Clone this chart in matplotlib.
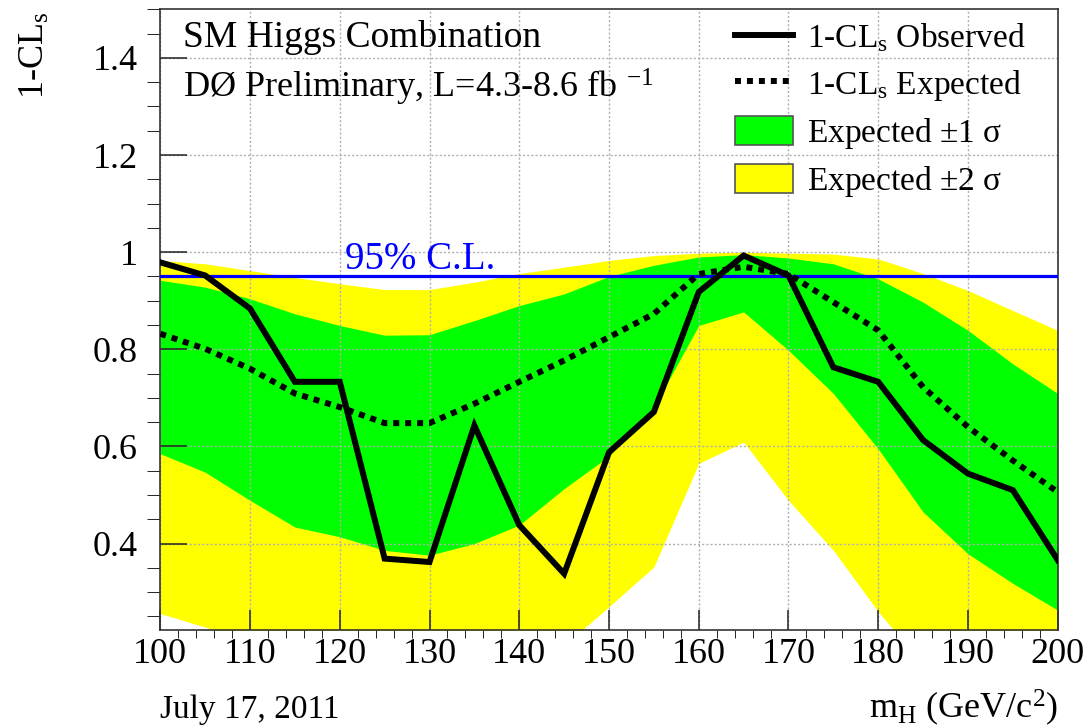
import matplotlib
matplotlib.use('Agg')
import matplotlib.pyplot as plt
from matplotlib.lines import Line2D
from matplotlib.patches import Patch
from matplotlib.ticker import MultipleLocator, FuncFormatter

plt.rcParams['font.family'] = ['Liberation Serif', 'DejaVu Serif']
plt.rcParams['mathtext.fontset'] = 'custom'
plt.rcParams['mathtext.rm'] = 'Liberation Serif'
plt.rcParams['mathtext.it'] = 'Liberation Serif:italic'

# Higgs mass points (GeV/c^2)
mass = [100, 105, 110, 115, 120, 125, 130, 135, 140, 145, 150,
        155, 160, 165, 170, 175, 180, 185, 190, 195, 200]

# 1-CLs observed and expected
observed = [0.979, 0.952, 0.884, 0.733, 0.733, 0.369, 0.362, 0.643, 0.438, 0.338, 0.588,
            0.671, 0.918, 0.993, 0.952, 0.763, 0.733, 0.613, 0.544, 0.510, 0.366]
expected = [0.832, 0.801, 0.760, 0.709, 0.681, 0.648, 0.648, 0.688, 0.733, 0.777, 0.825,
            0.873, 0.955, 0.970, 0.955, 0.897, 0.839, 0.722, 0.640, 0.571, 0.506]

# expected +-1 sigma band
sig1_hi = [0.942, 0.928, 0.904, 0.873, 0.849, 0.829, 0.830, 0.859, 0.890, 0.914, 0.950,
           0.973, 0.990, 0.995, 0.988, 0.976, 0.945, 0.897, 0.839, 0.770, 0.709]
sig1_lo = [0.585, 0.547, 0.489, 0.434, 0.414, 0.386, 0.376, 0.400, 0.438, 0.513, 0.580,
           0.681, 0.849, 0.877, 0.798, 0.709, 0.595, 0.465, 0.379, 0.318, 0.263]

# expected +-2 sigma band
sig2_hi = [0.983, 0.976, 0.962, 0.948, 0.935, 0.923, 0.923, 0.938, 0.956, 0.969, 0.983,
           0.993, 0.998, 1.000, 0.998, 0.996, 0.986, 0.956, 0.921, 0.880, 0.839]
sig2_lo = [0.256, 0.228, 0.200, 0.180, 0.170, 0.160, 0.160, 0.170, 0.180, 0.190, 0.270,
           0.352, 0.565, 0.609, 0.489, 0.386, 0.260, 0.150, 0.100, 0.080, 0.050]

cl95 = 0.95

fig = plt.figure(figsize=(10.91, 7.28), dpi=100)
ax = fig.add_axes([0.1469, 0.1346, 0.8226, 0.8526])

ax.fill_between(mass, sig2_lo, sig2_hi, color='#ffff00', lw=0, zorder=1)
ax.fill_between(mass, sig1_lo, sig1_hi, color='#00ff00', lw=0, zorder=1.1)
ax.axhline(cl95, color='#0000ff', lw=2.3, zorder=3)
ax.plot(mass, expected, color='black', lw=4.3, ls=(0, (1, 1)), zorder=3.1)
ax.plot(mass, observed, color='black', lw=4.3, zorder=3.2, solid_joinstyle='miter')

ax.set_xlim(100, 200)
ax.set_ylim(0.222, 1.5)

ax.xaxis.set_major_locator(MultipleLocator(10))
ax.xaxis.set_minor_locator(MultipleLocator(2))
ax.yaxis.set_major_locator(MultipleLocator(0.2))
ax.yaxis.set_minor_locator(MultipleLocator(0.05))
ax.yaxis.set_major_formatter(FuncFormatter(lambda v, p: '%g' % round(v, 2)))

ax.tick_params(axis='both', direction='in', labelsize=26, color='#222222', width=1.1)
ax.tick_params(axis='y', which='major', length=19.5, pad=16)
ax.tick_params(axis='y', which='minor', length=9.5)
ax.tick_params(axis='x', which='major', length=14.5, pad=6)
ax.tick_params(axis='x', which='minor', length=6)
ax.grid(True, which='major', color='#b0b0b0', ls=(0, (1.5, 1.5)), lw=1.0)

for s in ax.spines.values():
    s.set_linewidth(1.2)
    s.set_color('#333333')

ax.text(120.6, 0.966, '95% C.L.', color='#0000ff', fontsize=28, zorder=4)

ax.text(0.0256, 0.940, 'SM Higgs Combination', transform=ax.transAxes, fontsize=27)
ax.text(0.0256, 0.857, 'DØ Preliminary, L=4.3-8.6 fb $^{-1}$', transform=ax.transAxes,
        fontsize=26)

handles = [
    Line2D([], [], color='black', lw=4.3),
    Line2D([], [], color='black', lw=4.3, ls=(0, (1, 1))),
    Patch(facecolor='#00ff00', edgecolor='#555555', lw=1.2),
    Patch(facecolor='#ffff00', edgecolor='#555555', lw=1.2),
]
labels = ['1-CL$_{\\mathrm{s}}$ Observed', '1-CL$_{\\mathrm{s}}$ Expected',
          'Expected $\\pm$1 σ', 'Expected $\\pm$2 σ']
ax.legend(handles, labels, loc='upper left', bbox_to_anchor=(0.640, 0.980),
          frameon=False, fontsize=24, handlelength=1.74, handleheight=0.96,
          handletextpad=0.42, labelspacing=0.39, borderpad=0, borderaxespad=0)

fig.text(0.032, 0.984, '1-CL$_{\\mathrm{s}}$', rotation=90, ha='center', va='top', fontsize=26)
fig.text(0.9695, 0.0137, 'm$_{\\mathrm{H}}$ (GeV/c$^{2}$)', ha='right', va='baseline', fontsize=26)
fig.text(0.147, 0.0137, 'July 17, 2011', ha='left', va='baseline', fontsize=24)

fig.savefig('out.png', dpi=100)
